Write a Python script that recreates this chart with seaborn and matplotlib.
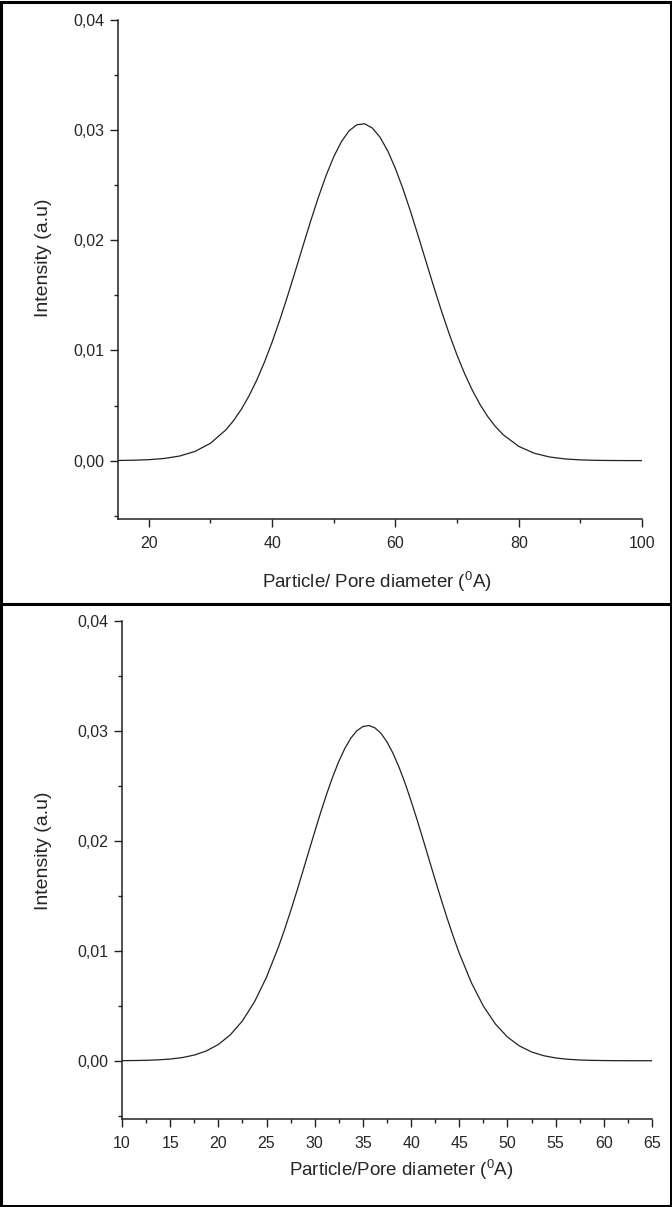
import numpy as np
import pandas as pd
import matplotlib
matplotlib.use("Agg")
import matplotlib.pyplot as plt
from matplotlib.ticker import FuncFormatter, MultipleLocator
from matplotlib.patches import Rectangle
from matplotlib.lines import Line2D
import seaborn as sns

# ---- data ----
top_diameter = [15, 17.5, 20, 22.5, 25, 27.5, 30, 32.5, 33.75, 35, 36.25, 37.5, 38.75,
                40, 41.25, 42.5, 43.75, 45, 46.25, 47.5, 48.75, 50, 51.25, 52.5, 53.75,
                55, 56.25, 57.5, 58.75, 60, 61.25, 62.5, 63.75, 65, 66.25, 67.5, 68.75,
                70, 71.25, 72.5, 73.75, 75, 76.25, 77.5, 80, 82.5, 85, 87.5, 90, 92.5,
                95, 97.5, 100]
top_intensity = [0.000014, 0.000036, 0.0000865, 0.000196, 0.000417, 0.000836, 0.001576,
                 0.002793, 0.003632, 0.004655, 0.005875, 0.007302, 0.008932,
                 0.010762, 0.012776, 0.01493, 0.017185, 0.01948, 0.021745, 0.02390,
                 0.025875, 0.02759, 0.028963, 0.02995, 0.030492,
                 0.03058, 0.030195, 0.02936, 0.028122, 0.02652, 0.024636, 0.02254,
                 0.020300, 0.01801, 0.015735, 0.01353, 0.011469,
                 0.00957, 0.007864, 0.006364, 0.005071, 0.003979, 0.003075, 0.002341,
                 0.001295, 0.000674, 0.000330, 0.000152, 0.0000657, 0.0000268,
                 0.00001, 0.000004, 0.000001]

bottom_diameter = [10, 11.25, 12.5, 13.75, 15, 16.25, 17.5, 18.75, 20, 21.25, 22.5, 23.75,
                   25, 26.25, 26.875, 27.5, 28.125, 28.75, 29.375, 30, 30.625, 31.25,
                   31.875, 32.5, 33.125, 33.75, 34.375, 35, 35.625, 36.25, 36.875, 37.5,
                   38.125, 38.75, 39.375, 40, 40.625, 41.25, 41.875, 42.5, 43.125, 43.75,
                   44.375, 45, 46.25, 47.5, 48.75, 50, 51.25, 52.5, 53.75,
                   55, 56.25, 57.5, 58.75, 60, 61.25, 62.5, 63.75, 65]
bottom_intensity = [0.0000084, 0.0000185, 0.0000389, 0.0000788, 0.000153, 0.000286,
                    0.000515, 0.000890, 0.001478, 0.002363, 0.003629, 0.005359,
                    0.007606, 0.01038, 0.011947, 0.01362, 0.015372, 0.01718, 0.019014,
                    0.02083, 0.022610, 0.02429, 0.025849, 0.02723, 0.028408, 0.02935,
                    0.030018, 0.03040, 0.030494, 0.03028, 0.029783, 0.02900, 0.027965,
                    0.02670, 0.025245, 0.02363, 0.021908, 0.02011, 0.018279, 0.01645,
                    0.014664, 0.01294, 0.011306, 0.00978, 0.00711, 0.00497, 0.00334,
                    0.002158, 0.001340, 0.000800, 0.000459, 0.000254, 0.000134,
                    0.0000686, 0.0000336, 0.0000159, 0.000007, 0.000003, 0.000001,
                    0.0000005]

y_ticks = [0.00, 0.01, 0.02, 0.03, 0.04]
top_x_ticks = [20, 40, 60, 80, 100]
bottom_x_ticks = [10, 15, 20, 25, 30, 35, 40, 45, 50, 55, 60, 65]
y_label = "Intensity (a.u)"
top_x_label = r"Particle/ Pore diameter ($^{0}$A)"
bottom_x_label = r"Particle/Pore diameter ($^{0}$A)"

# ---- style ----
sns.set_style("ticks")
plt.rcParams['font.family'] = ['Liberation Sans', 'DejaVu Sans']
plt.rcParams['mathtext.fontset'] = 'custom'
plt.rcParams['mathtext.rm'] = 'Liberation Sans'
plt.rcParams['mathtext.it'] = 'Liberation Sans:italic'
plt.rcParams['mathtext.bf'] = 'Liberation Sans:bold'

W, H = 672, 1207
fig = plt.figure(figsize=(W / 100, H / 100), dpi=100)

def frac_axes(left, top, right, bottom):
    return [left / W, 1 - bottom / H, (right - left) / W, (bottom - top) / H]

ax1 = fig.add_axes(frac_axes(118, 20, 642, 519))
ax2 = fig.add_axes(frac_axes(122, 621, 652, 1119))

comma = FuncFormatter(lambda v, p: f"{v:.2f}".replace(".", ","))

df_top = pd.DataFrame({"d": top_diameter, "i": top_intensity})
df_bot = pd.DataFrame({"d": bottom_diameter, "i": bottom_intensity})

sns.lineplot(data=df_top, x="d", y="i", ax=ax1, color="#222222", linewidth=0.9)
sns.lineplot(data=df_bot, x="d", y="i", ax=ax2, color="#222222", linewidth=0.9)

def style(ax, xlim, xticks, xminor, xlabel, ylab_xy, xlab_xy):
    ax.set_xlim(*xlim)
    ax.set_ylim(-0.0053, 0.04)
    ax.set_xticks(xticks)
    ax.xaxis.set_minor_locator(MultipleLocator(xminor))
    ax.set_yticks(y_ticks)
    ax.yaxis.set_minor_locator(MultipleLocator(0.005))
    ax.yaxis.set_major_formatter(comma)
    for s in ["top", "right"]:
        ax.spines[s].set_visible(False)
    for s in ["left", "bottom"]:
        ax.spines[s].set_linewidth(1.1)
        ax.spines[s].set_color("#222222")
    ax.tick_params(axis="both", which="major", direction="out", length=6,
                   width=1.0, labelsize=11.5, pad=4, color="#222222")
    ax.tick_params(axis="both", which="minor", direction="out", length=3.2,
                   width=1.0, color="#222222")
    ax.tick_params(axis="x", which="major", pad=6)
    ax.set_ylabel(y_label, fontsize=14)
    ax.set_xlabel(xlabel, fontsize=13.5)
    ax.yaxis.set_label_coords(*ylab_xy)
    ax.xaxis.set_label_coords(*xlab_xy)

style(ax1, (15, 100), top_x_ticks, 10, top_x_label, (-0.126, 0.523), (0.494, -0.102))
style(ax2, (10, 65), bottom_x_ticks, 2.5, bottom_x_label, (-0.132, 0.538), (0.526, -0.078))

# panel frames
fig.patches.append(Rectangle((0.002, 0.001), 0.996, 0.997, transform=fig.transFigure,
                             fill=False, edgecolor="black", linewidth=2.2))
fig.lines.append(Line2D([0, 1], [1 - 604 / H, 1 - 604 / H], transform=fig.transFigure,
                        color="black", linewidth=2.2))

fig.savefig("out.png", dpi=100)
